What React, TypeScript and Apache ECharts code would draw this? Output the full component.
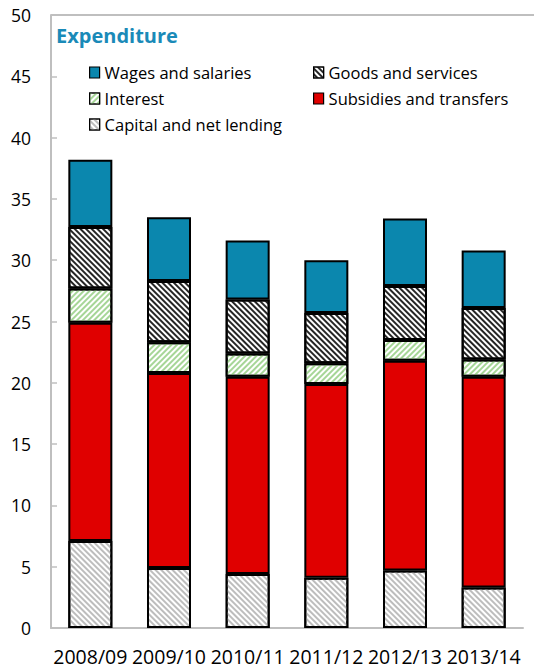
import React, { useEffect, useRef } from "react";
import * as echarts from "echarts";

const categories = ["2008/09", "2009/10", "2010/11", "2011/12", "2012/13", "2013/14"];
// Stacked from the bottom up, % of GDP
const capital = [7.1, 4.9, 4.4, 4.1, 4.7, 3.3];
const subsidies = [17.8, 15.9, 16.1, 15.8, 17.1, 17.2];
const interest = [2.8, 2.5, 1.9, 1.7, 1.7, 1.4];
const goods = [5.0, 5.0, 4.4, 4.1, 4.4, 4.2];
const wages = [5.5, 5.2, 4.8, 4.3, 5.5, 4.7];

const FONT = "'Open Sans', 'Noto Sans', sans-serif";

const hatch = (color: string, rotation: number, dashY: number[]) => ({
  symbol: "rect",
  symbolSize: 1,
  color,
  dashArrayX: [1, 0],
  dashArrayY: dashY,
  rotation,
});

export default function App() {
  const ref = useRef<HTMLDivElement>(null);

  useEffect(() => {
    if (!ref.current) return;
    const chart = echarts.init(ref.current, undefined, { renderer: "svg" });

    const barBase = {
      type: "bar",
      stack: "total",
      barWidth: 44,
    };

    const series = [
      {
        ...barBase,
        name: "Capital and net lending",
        data: capital,
        itemStyle: {
          color: "#ffffff",
          borderColor: "#000",
          borderWidth: 2,
          decal: hatch("#bdbdbd", Math.PI / 4, [1.1, 1.5]),
        },
      },
      {
        ...barBase,
        name: "Subsidies and transfers",
        data: subsidies,
        itemStyle: { color: "#e00000", borderColor: "#000", borderWidth: 2 },
      },
      {
        ...barBase,
        name: "Interest",
        data: interest,
        itemStyle: {
          color: "#ffffff",
          borderColor: "#000",
          borderWidth: 2,
          decal: hatch("#a6d697", -Math.PI / 4, [1.1, 1.5]),
        },
      },
      {
        ...barBase,
        name: "Goods and services",
        data: goods,
        itemStyle: {
          color: "#ffffff",
          borderColor: "#000",
          borderWidth: 2,
          decal: hatch("#262626", Math.PI / 4, [1.1, 1.5]),
        },
      },
      {
        ...barBase,
        name: "Wages and salaries",
        data: wages,
        itemStyle: { color: "#0b87ae", borderColor: "#000", borderWidth: 2 },
      },
    ];

    const legendCommon = {
      orient: "vertical",
      icon: "rect",
      itemWidth: 10,
      itemHeight: 11,
      itemGap: 9,
      selectedMode: false,
      textStyle: { fontFamily: FONT, fontSize: 16.5, color: "#000" },
      itemStyle: { borderColor: "#000", borderWidth: 1.2 },
    };

    chart.setOption({
      animation: false,
      textStyle: { fontFamily: FONT },
      title: {
        text: "Expenditure",
        left: 51,
        top: 20,
        textStyle: { fontFamily: FONT, fontSize: 20, fontWeight: "bold", color: "#1a8ab8" },
      },
      legend: [
        { ...legendCommon, left: 84, top: 59, data: ["Wages and salaries", "Interest", "Capital and net lending"] },
        { ...legendCommon, left: 308, top: 59, data: ["Goods and services", "Subsidies and transfers"] },
      ],
      grid: { left: 51, right: 11, top: 15, bottom: 42, containLabel: false },
      xAxis: {
        type: "category",
        data: categories,
        axisLine: { lineStyle: { color: "#bfbfbf", width: 2 } },
        axisTick: { inside: true, length: 6, lineStyle: { color: "#bfbfbf", width: 1.5 } },
        axisLabel: { fontFamily: FONT, fontSize: 19.5, color: "#000", margin: 18, interval: 0, hideOverlap: false },
      },
      yAxis: {
        type: "value",
        min: 0,
        max: 50,
        interval: 5,
        splitLine: { show: false },
        axisLine: { show: true, lineStyle: { color: "#bfbfbf", width: 2 } },
        axisTick: { show: true, inside: true, length: 6, lineStyle: { color: "#bfbfbf", width: 1.5 } },
        axisLabel: { fontFamily: FONT, fontSize: 17.5, color: "#000", margin: 20 },
      },
      graphic: [
        {
          type: "line",
          shape: { x1: 51, y1: 15, x2: 534, y2: 15 },
          style: { stroke: "#bfbfbf", lineWidth: 2 },
          silent: true,
        },
      ],
      series,
    });

    return () => chart.dispose();
  }, []);

  return (
    <div
      ref={ref}
      style={{ position: "fixed", left: 0, top: 0, width: 534, height: 670, background: "#fff" }}
    />
  );
}
